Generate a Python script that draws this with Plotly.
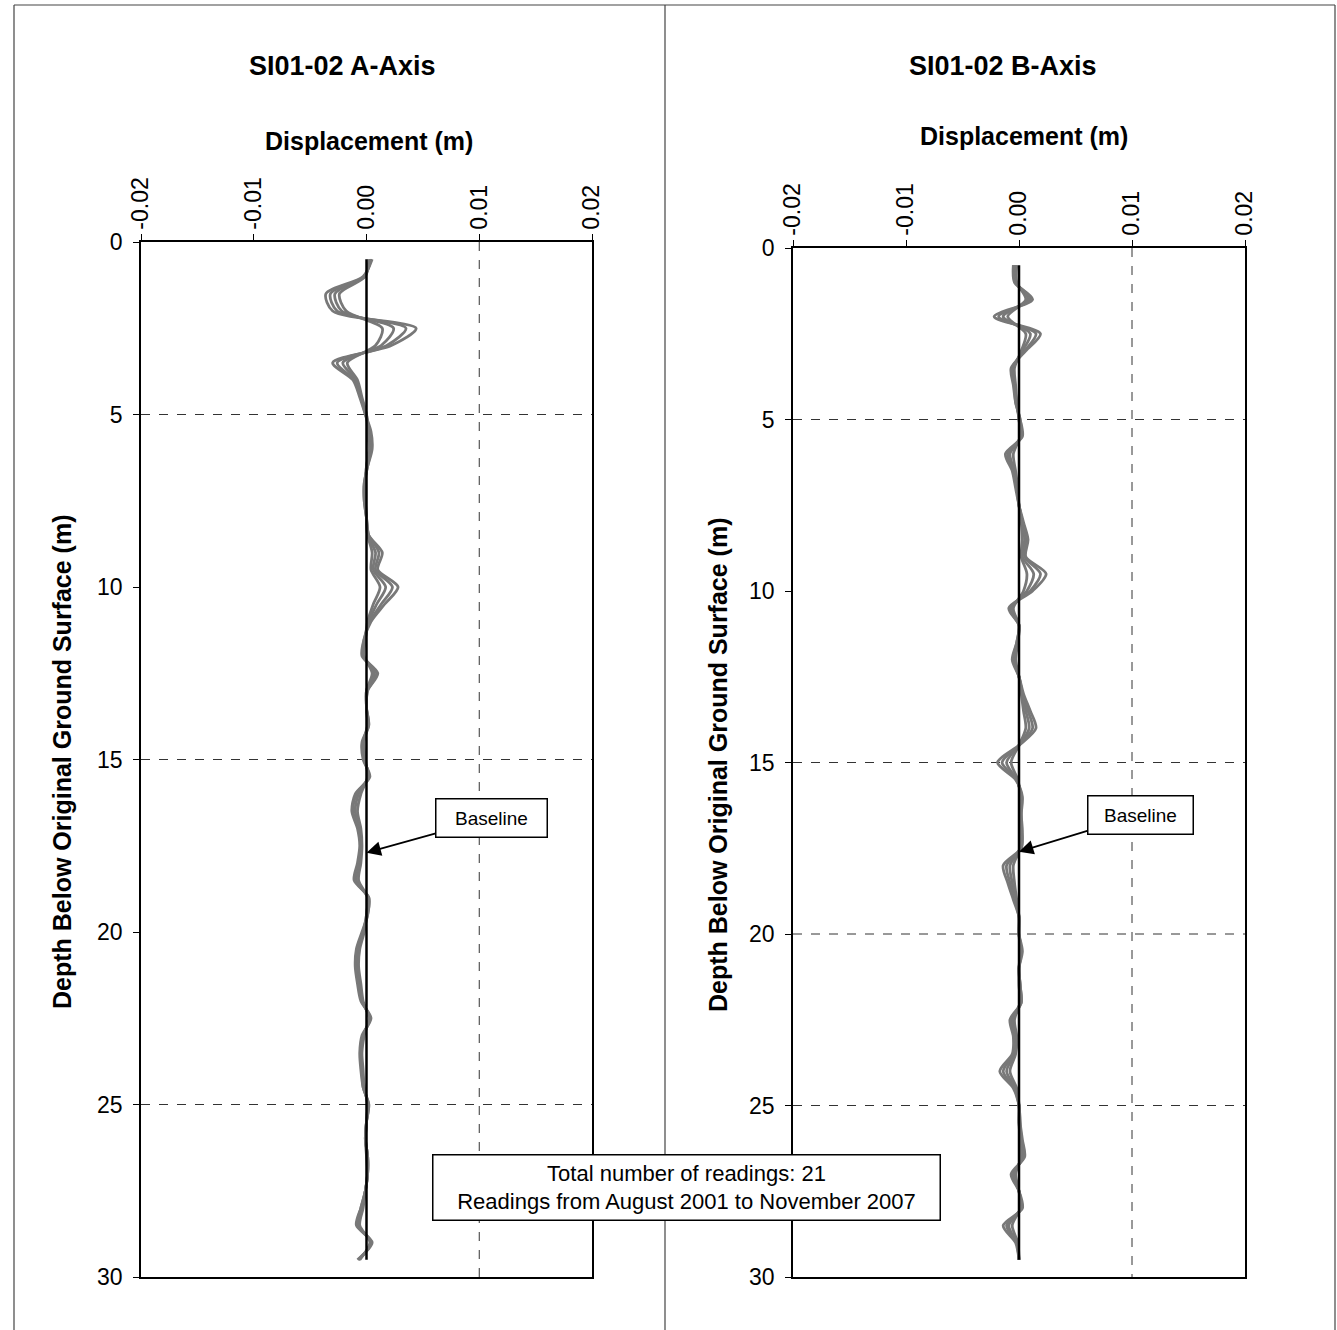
import plotly.graph_objects as go

# ---------------- data ----------------
depth = [0.5, 1.0, 1.5, 2.0, 2.5, 3.0, 3.5, 4.0, 4.5, 5.0,
         5.5, 6.0, 6.5, 7.0, 7.5, 8.0, 8.5, 9.0, 9.5, 10.0,
         10.5, 11.0, 11.5, 12.0, 12.5, 13.0, 13.5, 14.0, 14.5, 15.0,
         15.5, 16.0, 16.5, 17.0, 17.5, 18.0, 18.5, 19.0, 19.5, 20.0,
         20.5, 21.0, 21.5, 22.0, 22.5, 23.0, 23.5, 24.0, 24.5, 25.0,
         25.5, 26.0, 26.5, 27.0, 27.5, 28.0, 28.5, 29.0, 29.5]

# A-Axis readings (m)
a_r1 = [0.0002, -0.0001, -0.0024, -0.0018, 0.0014, 0.0008, -0.0017, -0.0008, -0.0004, 0.0000,
        0.0001, 0.0002, 0.0000, -0.0001, -0.0001, 0.0000, 0.0001, 0.0005, 0.0004, 0.0012,
        0.0006, 0.0001, -0.0001, -0.0002, 0.0005, 0.0000, 0.0000, 0.0001, -0.0002, -0.0001,
        0.0001, -0.0005, -0.0008, -0.0005, -0.0004, -0.0005, -0.0007, 0.0001, 0.0000, -0.0002,
        -0.0006, -0.0007, -0.0005, -0.0003, 0.0002, -0.0002, -0.0004, -0.0003, -0.0002, 0.0001,
        0.0000, -0.0001, 0.0000, 0.0001, -0.0001, -0.0003, -0.0006, 0.0003, -0.0006]
a_r2 = [0.0003, -0.0002, -0.0028, -0.0022, 0.0024, 0.0013, -0.0021, -0.0009, -0.0005, 0.0000,
        0.0002, 0.0003, 0.0000, -0.0001, -0.0001, 0.0000, 0.0001, 0.0008, 0.0006, 0.0017,
        0.0009, 0.0002, -0.0001, -0.0003, 0.0007, 0.0000, 0.0000, 0.0001, -0.0003, -0.0002,
        0.0002, -0.0007, -0.0010, -0.0006, -0.0005, -0.0006, -0.0009, 0.0001, 0.0000, -0.0003,
        -0.0007, -0.0008, -0.0006, -0.0004, 0.0003, -0.0003, -0.0005, -0.0004, -0.0002, 0.0001,
        0.0000, -0.0001, 0.0001, 0.0001, -0.0001, -0.0004, -0.0007, 0.0004, -0.0007]
a_r3 = [0.0004, -0.0002, -0.0032, -0.0026, 0.0035, 0.0018, -0.0026, -0.0011, -0.0005, -0.0001,
        0.0003, 0.0004, 0.0001, -0.0002, -0.0002, 0.0000, 0.0002, 0.0011, 0.0008, 0.0023,
        0.0013, 0.0003, -0.0002, -0.0003, 0.0009, 0.0001, 0.0000, 0.0002, -0.0003, -0.0002,
        0.0002, -0.0009, -0.0012, -0.0007, -0.0005, -0.0007, -0.0010, 0.0002, 0.0001, -0.0003,
        -0.0008, -0.0009, -0.0007, -0.0004, 0.0003, -0.0003, -0.0005, -0.0004, -0.0003, 0.0002,
        0.0000, -0.0001, 0.0001, 0.0001, -0.0001, -0.0005, -0.0008, 0.0004, -0.0007]
a_r4 = [0.0005, -0.0003, -0.0036, -0.0030, 0.0044, 0.0022, -0.0030, -0.0012, -0.0006, -0.0001,
        0.0004, 0.0005, 0.0001, -0.0002, -0.0002, 0.0000, 0.0002, 0.0014, 0.0010, 0.0028,
        0.0016, 0.0004, -0.0002, -0.0004, 0.0010, 0.0001, 0.0000, 0.0002, -0.0004, -0.0003,
        0.0003, -0.0010, -0.0013, -0.0008, -0.0006, -0.0008, -0.0011, 0.0002, 0.0001, -0.0004,
        -0.0009, -0.0010, -0.0008, -0.0005, 0.0004, -0.0004, -0.0006, -0.0005, -0.0003, 0.0002,
        0.0000, -0.0001, 0.0001, 0.0001, -0.0001, -0.0005, -0.0009, 0.0005, -0.0008]

# B-Axis readings (m)
b_r1 = [-0.0002, -0.0002, 0.0006, -0.0010, 0.0006, 0.0002, -0.0004, -0.0003, -0.0002, 0.0000,
        0.0001, -0.0005, -0.0003, -0.0001, 0.0000, 0.0002, 0.0003, 0.0002, 0.0007, 0.0004,
        -0.0005, 0.0000, -0.0001, -0.0003, 0.0000, 0.0002, 0.0004, 0.0006, 0.0000, -0.0007,
        -0.0001, 0.0001, 0.0001, 0.0001, 0.0001, -0.0005, -0.0004, -0.0002, 0.0000, 0.0000,
        0.0001, 0.0000, 0.0000, 0.0001, -0.0004, -0.0002, -0.0003, -0.0008, -0.0002, 0.0000,
        0.0000, 0.0001, 0.0002, -0.0003, 0.0000, 0.0001, -0.0006, -0.0001, 0.0000]
b_r2 = [-0.0003, -0.0003, 0.0008, -0.0014, 0.0010, 0.0003, -0.0005, -0.0004, -0.0002, 0.0000,
        0.0002, -0.0008, -0.0004, -0.0002, 0.0000, 0.0003, 0.0005, 0.0003, 0.0013, 0.0007,
        -0.0006, 0.0000, -0.0001, -0.0004, 0.0000, 0.0003, 0.0006, 0.0009, 0.0000, -0.0011,
        -0.0002, 0.0002, 0.0001, 0.0002, 0.0001, -0.0008, -0.0006, -0.0003, 0.0000, 0.0000,
        0.0002, 0.0000, 0.0001, 0.0001, -0.0005, -0.0003, -0.0004, -0.0011, -0.0003, 0.0000,
        0.0000, 0.0002, 0.0003, -0.0004, 0.0000, 0.0002, -0.0009, -0.0002, 0.0000]
b_r3 = [-0.0004, -0.0003, 0.0010, -0.0018, 0.0015, 0.0005, -0.0006, -0.0004, -0.0003, 0.0001,
        0.0002, -0.0010, -0.0005, -0.0002, 0.0000, 0.0003, 0.0006, 0.0005, 0.0019, 0.0010,
        -0.0008, 0.0000, -0.0002, -0.0005, 0.0000, 0.0003, 0.0008, 0.0012, 0.0000, -0.0015,
        -0.0002, 0.0002, 0.0002, 0.0002, 0.0002, -0.0011, -0.0008, -0.0004, 0.0000, 0.0000,
        0.0002, 0.0000, 0.0001, 0.0002, -0.0006, -0.0004, -0.0005, -0.0014, -0.0004, 0.0000,
        0.0001, 0.0002, 0.0004, -0.0005, 0.0000, 0.0002, -0.0011, -0.0002, 0.0000]
b_r4 = [-0.0005, -0.0004, 0.0012, -0.0022, 0.0019, 0.0006, -0.0007, -0.0005, -0.0003, 0.0001,
        0.0003, -0.0012, -0.0006, -0.0003, 0.0000, 0.0004, 0.0008, 0.0006, 0.0024, 0.0012,
        -0.0009, 0.0000, -0.0002, -0.0006, 0.0000, 0.0004, 0.0010, 0.0015, 0.0000, -0.0019,
        -0.0003, 0.0003, 0.0002, 0.0003, 0.0002, -0.0014, -0.0010, -0.0005, 0.0000, 0.0000,
        0.0003, 0.0000, 0.0001, 0.0002, -0.0008, -0.0005, -0.0006, -0.0017, -0.0005, 0.0000,
        0.0001, 0.0003, 0.0005, -0.0007, 0.0000, 0.0003, -0.0014, -0.0003, 0.0000]

baseline_x = [0.0, 0.0]
baseline_depth = [0.5, 29.5]

x_ticks = [-0.02, -0.01, 0.0, 0.01, 0.02]
x_ticktext = ["-0.02", "-0.01", "0.00", "0.01", "0.02"]
y_ticks = [0, 5, 10, 15, 20, 25, 30]

a_hgrid = [5, 15, 25]
b_hgrid = [5, 15, 20, 25]
vgrid = [0.01]

titles = ["SI01-02 A-Axis", "SI01-02 B-Axis"]
x_title = "Displacement (m)"
y_title = "Depth Below Original Ground Surface (m)"
note_text = "Total number of readings: 21<br>Readings from August 2001 to November 2007"

# ---------------- layout helpers ----------------
W, H = 1337, 1330
def px(x):
    return x / W
def py(y):
    return 1 - y / H

FONT = "Liberation Sans, Arial, sans-serif"
GREY = "#787878"
LW = 2.8

fig = go.Figure()

for r in [a_r1, a_r2, a_r3, a_r4]:
    fig.add_trace(go.Scatter(x=r, y=depth, mode="lines", xaxis="x", yaxis="y",
                             line=dict(color=GREY, width=LW, shape="spline", smoothing=0.8),
                             showlegend=False, hoverinfo="skip"))
fig.add_trace(go.Scatter(x=baseline_x, y=baseline_depth, mode="lines", xaxis="x", yaxis="y",
                         line=dict(color="black", width=2.5), showlegend=False))

for r in [b_r1, b_r2, b_r3, b_r4]:
    fig.add_trace(go.Scatter(x=r, y=depth, mode="lines", xaxis="x2", yaxis="y2",
                             line=dict(color=GREY, width=LW, shape="spline", smoothing=0.8),
                             showlegend=False, hoverinfo="skip"))
fig.add_trace(go.Scatter(x=baseline_x, y=baseline_depth, mode="lines", xaxis="x2", yaxis="y2",
                         line=dict(color="black", width=2.5), showlegend=False))

xaxis_common = dict(range=[-0.02, 0.02], tickvals=x_ticks, ticktext=x_ticktext,
                    side="top", tickangle=-90, ticks="outside", ticklen=6, tickwidth=1,
                    tickcolor="black", showline=True, linecolor="black", linewidth=1.5,
                    mirror=True, showgrid=False, zeroline=False, automargin=False,
                    tickfont=dict(family=FONT, size=23, color="black"))
yaxis_common = dict(range=[30, 0], tickvals=y_ticks, ticks="outside", ticklen=6, tickwidth=1,
                    tickcolor="black", showline=True, linecolor="black", linewidth=1.5,
                    mirror=True, showgrid=False, zeroline=False, ticklabelstandoff=6,
                    automargin=False,
                    tickfont=dict(family=FONT, size=23, color="black"))

fig.update_layout(
    width=W, height=H,
    margin=dict(l=0, r=0, t=0, b=0, pad=0, autoexpand=False),
    paper_bgcolor="white", plot_bgcolor="white",
    xaxis=dict(domain=[px(141), px(592)], anchor="y", **xaxis_common),
    yaxis=dict(domain=[py(1277), py(242)], anchor="x", **yaxis_common),
    xaxis2=dict(domain=[px(793), px(1245)], anchor="y2", **xaxis_common),
    yaxis2=dict(domain=[py(1277), py(248)], anchor="x2", **yaxis_common),
)

shapes = []
# dashed grid lines
for g in a_hgrid:
    shapes.append(dict(type="line", xref="x", yref="y", x0=-0.02, x1=0.02, y0=g, y1=g,
                       line=dict(color="#333", width=1, dash="dash"), layer="below"))
for g in vgrid:
    shapes.append(dict(type="line", xref="x", yref="y", x0=g, x1=g, y0=0, y1=30,
                       line=dict(color="#333", width=1, dash="dash"), layer="below"))
for g in b_hgrid:
    shapes.append(dict(type="line", xref="x2", yref="y2", x0=-0.02, x1=0.02, y0=g, y1=g,
                       line=dict(color="#333", width=1, dash="dash"), layer="below"))
for g in vgrid:
    shapes.append(dict(type="line", xref="x2", yref="y2", x0=g, x1=g, y0=0, y1=30,
                       line=dict(color="#333", width=1, dash="dash"), layer="below"))
# outer frame
frame = dict(color="#444", width=1.2)
shapes += [
    dict(type="line", xref="paper", yref="paper", x0=px(14), x1=px(1335), y0=py(5), y1=py(5), line=frame),
    dict(type="line", xref="paper", yref="paper", x0=px(14), x1=px(14), y0=py(5), y1=0, line=frame),
    dict(type="line", xref="paper", yref="paper", x0=px(665), x1=px(665), y0=py(5), y1=0, line=frame),
    dict(type="line", xref="paper", yref="paper", x0=px(1335), x1=px(1335), y0=py(5), y1=0, line=frame),
]
fig.update_layout(shapes=shapes)

def label(text, x, y, size, angle=0):
    return dict(text=text, x=px(x), y=py(y), xref="paper", yref="paper",
                xanchor="center", yanchor="middle", showarrow=False, textangle=angle,
                font=dict(family=FONT, size=size, color="black"))

ann = []
# chart titles
ann.append(label("<b>%s</b>" % titles[0], 342, 66, 27))
ann.append(label("<b>%s</b>" % titles[1], 1003, 66, 27))
# x axis titles
ann.append(label("<b>%s</b>" % x_title, 369, 141, 25))
ann.append(label("<b>%s</b>" % x_title, 1024, 136, 25))
# y axis titles
ann.append(label("<b>%s</b>" % y_title, 62, 762, 25, -90))
ann.append(label("<b>%s</b>" % y_title, 718, 765, 25, -90))
# Baseline callouts
ann.append(dict(text="Baseline", x=0.0, y=17.7, xref="x", yref="y", showarrow=True,
                ax=125, ay=-35, arrowhead=2, arrowsize=1.6, arrowwidth=1.8, arrowcolor="black",
                bgcolor="white", bordercolor="black", borderwidth=1.5, borderpad=3,
                width=104, height=31, font=dict(family=FONT, size=19, color="black")))
ann.append(dict(text="Baseline", x=0.0, y=17.6, xref="x2", yref="y2", showarrow=True,
                ax=121, ay=-37, arrowhead=2, arrowsize=1.6, arrowwidth=1.8, arrowcolor="black",
                bgcolor="white", bordercolor="black", borderwidth=1.5, borderpad=3,
                width=98, height=31, font=dict(family=FONT, size=19, color="black")))
# readings note
ann.append(dict(text=note_text, x=px(686), y=py(1187), xref="paper", yref="paper",
                xanchor="center", yanchor="middle",
                showarrow=False, bgcolor="white", bordercolor="black", borderwidth=1.5,
                borderpad=3, width=500, height=58,
                font=dict(family=FONT, size=22, color="black")))
fig.update_layout(annotations=ann)

fig.write_html("out.html", config={"displayModeBar": False},
               post_script="document.body.style.margin='0px';")
